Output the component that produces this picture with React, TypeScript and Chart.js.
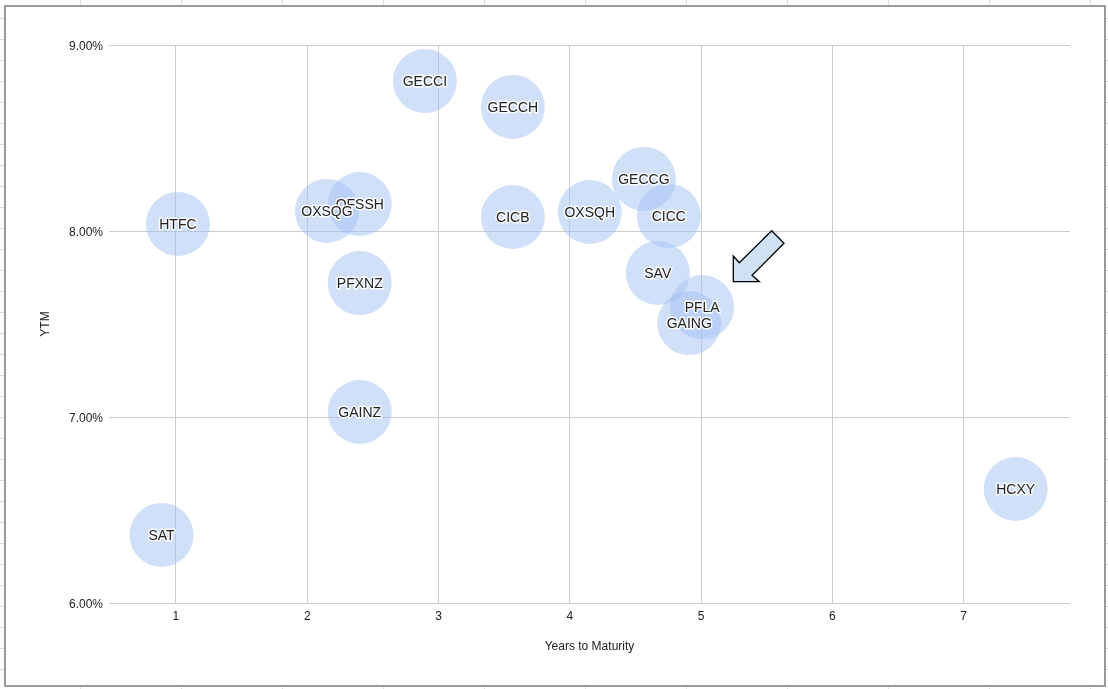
import React, { useEffect, useRef } from "react";
import { Chart, registerables } from "chart.js";

Chart.register(...registerables);

const names = ["HTFC", "SAT", "OFSSH", "OXSQG", "PFXNZ", "GAINZ", "GECCI", "GECCH", "CICB", "OXSQH", "GECCG", "CICC", "SAV", "PFLA", "GAING", "HCXY"];
const yearsToMaturity = [1.015, 0.89, 2.4, 2.15, 2.4, 2.4, 2.896, 3.566, 3.566, 4.152, 4.564, 4.754, 4.67, 5.008, 4.91, 7.396];
const ytm = [8.038, 6.366, 8.145, 8.108, 7.72, 7.027, 8.806, 8.667, 8.075, 8.102, 8.28, 8.081, 7.774, 7.591, 7.505, 6.613];
const bubbleSize = [32, 32, 32, 32, 32, 32, 32, 32, 32, 32, 32, 32, 32, 32, 32, 32];
const xTicks = [1, 2, 3, 4, 5, 6, 7];
const yTicks = [6, 7, 8, 9];

const FONT = "Arial, 'Liberation Sans', sans-serif";

const labelPlugin = {
  id: "bubbleLabels",
  afterDatasetsDraw(chart: any) {
    const ctx = chart.ctx;
    const meta = chart.getDatasetMeta(0);
    ctx.save();
    ctx.font = `14px ${FONT}`;
    ctx.textAlign = "center";
    ctx.textBaseline = "middle";
    ctx.lineJoin = "round";
    meta.data.forEach((el: any, i: number) => {
      ctx.lineWidth = 3;
      ctx.strokeStyle = "rgba(255,255,255,0.9)";
      ctx.strokeText(names[i], el.x, el.y + 1);
      ctx.fillStyle = "#222222";
      ctx.fillText(names[i], el.x, el.y + 1);
    });
    ctx.restore();
  },
};

export default function App() {
  const ref = useRef<HTMLCanvasElement | null>(null);

  useEffect(() => {
    if (!ref.current) return;
    const chart = new Chart(ref.current, {
      type: "bubble",
      data: {
        datasets: [
          {
            data: names.map((_, i) => ({ x: yearsToMaturity[i], y: ytm[i], r: bubbleSize[i] })),
            backgroundColor: "rgba(164,194,244,0.5)",
            borderWidth: 0,
            borderColor: "rgba(0,0,0,0)",
          },
        ],
      },
      options: {
        responsive: false,
        animation: false,
        layout: { padding: { left: 0, top: 45, right: 38, bottom: 0 } },
        plugins: { legend: { display: false }, tooltip: { enabled: false } },
        scales: {
          x: {
            type: "linear",
            min: 0.49,
            max: 7.81,
            afterBuildTicks: (s: any) => {
              s.ticks = xTicks.map((v) => ({ value: v }));
            },
            afterFit: (s: any) => {
              s.height = 86;
            },
            grid: { color: "#cccccc", drawTicks: false },
            border: { display: false },
            ticks: {
              padding: 6,
              color: "#222222",
              font: { family: FONT, size: 12 },
              callback: (v: any) => String(v),
            },
            title: {
              display: true,
              text: "Years to Maturity",
              color: "#222222",
              font: { family: FONT, size: 12 },
              padding: { top: 0, bottom: 35 },
            },
          },
          y: {
            type: "linear",
            min: 6,
            max: 9,
            afterBuildTicks: (s: any) => {
              s.ticks = yTicks.map((v) => ({ value: v }));
            },
            afterFit: (s: any) => {
              s.width = 109;
            },
            grid: { color: "#cccccc", drawTicks: false },
            border: { display: false },
            ticks: {
              padding: 6,
              labelOffset: 2,
              color: "#222222",
              font: { family: FONT, size: 12 },
              callback: (v: any) => Number(v).toFixed(2) + "%",
            },
            title: {
              display: true,
              text: "YTM",
              color: "#222222",
              font: { family: FONT, size: 12 },
              padding: { top: 38, bottom: 0 },
            },
          },
        },
      },
      plugins: [labelPlugin],
    } as any);
    return () => chart.destroy();
  }, []);

  return (
    <div
      style={{
        position: "absolute",
        left: 0,
        top: 0,
        width: 1108,
        height: 689,
        overflow: "hidden",
        background: "#ffffff",
      }}
    >
      <svg
        width={1108}
        height={689}
        style={{ position: "absolute", left: 0, top: 0 }}
      >
        {Array.from({ length: 11 }, (_, k) => (
          <line key={"v" + k} x1={80.5 + 101 * k} y1={0} x2={80.5 + 101 * k} y2={689} stroke="#dadada" strokeWidth={1} />
        ))}
        {Array.from({ length: 33 }, (_, k) => (
          <line key={"h" + k} x1={0} y1={18.5 + 21 * k} x2={1108} y2={18.5 + 21 * k} stroke="#dadada" strokeWidth={1} />
        ))}
      </svg>
      <div
        style={{
          position: "absolute",
          left: 4,
          top: 5,
          width: 1102,
          height: 682,
          boxSizing: "border-box",
          border: "2px solid #9a9a9a",
          background: "#ffffff",
        }}
      />
      <canvas
        ref={ref}
        width={1108}
        height={689}
        style={{ position: "absolute", left: 0, top: 0, width: 1108, height: 689 }}
      />
      <svg
        width={1108}
        height={689}
        style={{ position: "absolute", left: 0, top: 0, pointerEvents: "none" }}
      >
        <polygon
          points="771.7,230.7 784,243.3 752,275.3 759.3,281.7 733.3,281.7 733.3,256 739.3,262.7"
          fill="#cfe2f3"
          stroke="#000000"
          strokeWidth={1.3}
          strokeLinejoin="miter"
        />
      </svg>
    </div>
  );
}
